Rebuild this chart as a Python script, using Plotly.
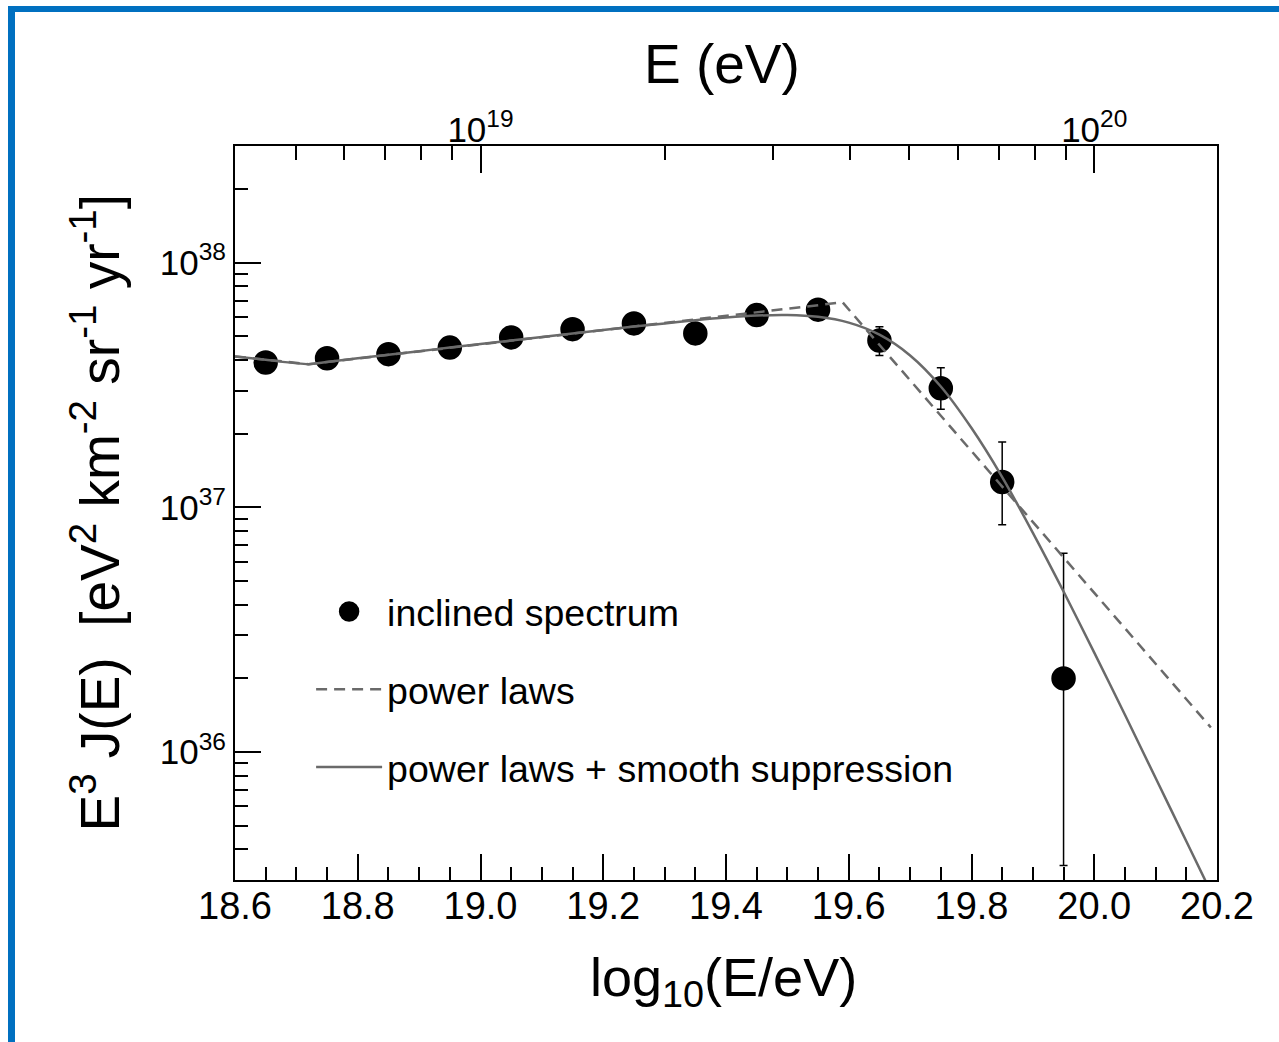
import plotly.graph_objects as go

# ---------------- data ----------------
log_e = [18.65, 18.75, 18.85, 18.95, 19.05, 19.15, 19.25, 19.35,
         19.45, 19.55, 19.65, 19.75, 19.85, 19.95]
e3j = [3.91e37, 4.07e37, 4.23e37, 4.50e37, 4.95e37, 5.35e37, 5.65e37, 5.14e37,
       6.11e37, 6.43e37, 4.81e37, 3.07e37, 1.27e37, 2.0e36]
err_plus = [0, 0, 0, 0, 0, 0, 0, 0, 0, 0, 0.66e37, 0.65e37, 0.58e37, 4.49e36]
err_minus = [0, 0, 0, 0, 0, 0, 0, 0, 0, 0, 0.63e37, 0.55e37, 0.421e37, 1.656e36]

# "power laws + smooth suppression" curve
smooth_x = [18.60, 18.65, 18.72, 18.75, 18.80, 18.85, 18.90, 18.95, 19.00,
            19.05, 19.10, 19.15, 19.20, 19.25, 19.30, 19.35, 19.40, 19.45,
            19.50, 19.55, 19.60, 19.65, 19.70, 19.75, 19.80, 19.85, 19.90,
            19.95, 20.00, 20.05, 20.10, 20.15, 20.20]
smooth_y = [4.14e37, 4.01e37, 3.85e37, 3.93e37, 4.07e37, 4.21e37, 4.35e37,
            4.50e37, 4.65e37, 4.81e37, 4.97e37, 5.14e37, 5.31e37, 5.49e37,
            5.65e37, 5.82e37, 5.97e37, 6.08e37, 6.11e37, 6.01e37, 5.69e37,
            5.08e37, 4.18e37, 3.12e37, 2.11e37, 1.33e37, 7.87e36, 4.53e36,
            2.55e36, 1.42e36, 7.83e35, 4.32e35, 2.38e35]

# "power laws" (broken power law) - break points
pl_x = [18.60, 18.72, 19.59, 20.19]
pl_y = [4.14e37, 3.85e37, 6.89e37, 1.26e36]

# tick labels
y_major = [1e36, 1e37, 1e38]
y_major_text = ["10<sup>36</sup>", "10<sup>37</sup>", "10<sup>38</sup>"]
top_major = [1e19, 1e20]
top_major_text = ["10<sup>19</sup>", "10<sup>20</sup>"]

# ---------------- styling ----------------
FONT = "Liberation Sans, Arial, Helvetica, sans-serif"
LINE_GREY = "#6a6a6a"
X_RANGE = [18.6, 20.2]
Y_RANGE = [35.47712, 38.47712]   # log10(3e35) .. log10(3e38)

y_minor = [k * 10.0 ** n for n in range(35, 39) for k in range(2, 10)]
y_minor = [v for v in y_minor if 3.05e35 < v < 2.95e38]
top_minor = [k * 1e18 for k in range(5, 10)] + [k * 1e19 for k in range(2, 10)]

fig = go.Figure()

fig.add_trace(go.Scatter(
    x=log_e, y=e3j, mode="markers", name="inclined spectrum",
    legendgroup="a",
    marker=dict(color="black", size=20, line=dict(color="black", width=4.5)),
    error_y=dict(type="data", symmetric=False, array=err_plus,
                 arrayminus=err_minus, color="black", thickness=1.5, width=4),
))
fig.add_trace(go.Scatter(
    x=pl_x, y=pl_y, mode="lines", name="power laws", legendgroup="b",
    line=dict(color=LINE_GREY, width=2.5, dash="11px,7px"),
))
fig.add_trace(go.Scatter(
    x=smooth_x, y=smooth_y, mode="lines",
    name="power laws + smooth suppression", legendgroup="c",
    line=dict(color=LINE_GREY, width=2.5, shape="spline", smoothing=0.8),
))
# invisible trace carrying the top (energy) axis
fig.add_trace(go.Scatter(
    x=[10 ** v for v in log_e], y=e3j, xaxis="x2", mode="none",
    showlegend=False, hoverinfo="skip",
))

axis_common = dict(showline=True, linecolor="black", linewidth=2,
                   ticks="inside", tickcolor="black", tickwidth=1.6,
                   showgrid=False, zeroline=False)

fig.update_layout(
    width=1279, height=1042,
    margin=dict(l=235, r=62, t=146, b=162),
    paper_bgcolor="white", plot_bgcolor="white",
    font=dict(family=FONT, color="black"),
    xaxis=dict(**axis_common, range=X_RANGE, tickmode="linear", tick0=18.6,
               dtick=0.2, tickformat=".1f", ticklen=26,
               ticklabelstandoff=-9,
               tickfont=dict(family=FONT, size=38, color="black"),
               minor=dict(dtick=0.05, tick0=18.6, ticklen=13, ticks="inside",
                          tickcolor="black", tickwidth=1.6)),
    xaxis2=dict(**axis_common, type="log", range=X_RANGE, overlaying="x",
                side="top", tickmode="array", tickvals=top_major,
                ticktext=top_major_text, ticklen=27, ticklabelstandoff=-12,
                tickfont=dict(family=FONT, size=35, color="black"),
                minor=dict(tickmode="array", tickvals=top_minor, ticklen=14,
                           ticks="inside", tickcolor="black", tickwidth=1.6)),
    yaxis=dict(**axis_common, type="log", range=Y_RANGE, mirror=True,
               tickmode="array", tickvals=y_major, ticktext=y_major_text,
               ticklen=26,
               tickfont=dict(family=FONT, size=35, color="black"),
               minor=dict(tickmode="array", tickvals=y_minor, ticklen=13,
                          ticks="inside", tickcolor="black", tickwidth=1.6)),
    showlegend=True,
    legend=dict(x=0.0775, y=0.408, xanchor="left", yanchor="top",
                bgcolor="rgba(0,0,0,0)", borderwidth=0,
                font=dict(family=FONT, size=37.5, color="black"),
                traceorder="grouped", tracegroupgap=26, itemwidth=66),
)

# axis titles
fig.add_annotation(text="E (eV)", xref="paper", yref="paper", x=0.4963, y=1.112,
                   xanchor="center", yanchor="middle", showarrow=False,
                   font=dict(family=FONT, size=55, color="black"))
fig.add_annotation(text="log<sub>10</sub>(E/eV)", xref="paper", yref="paper",
                   x=0.4978, y=-0.089, xanchor="center", yanchor="top",
                   showarrow=False, font=dict(family=FONT, size=54, color="black"))
fig.add_annotation(
    text="E<sup>3</sup> J(E)\u00a0\u00a0[eV<sup>2</sup> km<sup>-2</sup> sr<sup>-1</sup> yr<sup>-1</sup>]",
    xref="paper", yref="paper", x=-0.142, y=0.5, xanchor="center",
    yanchor="middle", textangle=-90, showarrow=False,
    font=dict(family=FONT, size=55, color="black"))

# blue frame of the original figure (left and top edges)
BLUE = "#0070C0"
PW, PH = 1279 - 235 - 62, 1042 - 146 - 162
def px(x):
    return (x - 235) / PW
def py(y):
    return (1042 - 162 - y) / PH
fig.add_shape(type="rect", xref="paper", yref="paper", x0=px(8), x1=px(15),
              y0=py(1060), y1=py(6), fillcolor=BLUE, line_width=0, layer="above")
fig.add_shape(type="rect", xref="paper", yref="paper", x0=px(8), x1=px(1290),
              y0=py(12), y1=py(6), fillcolor=BLUE, line_width=0, layer="above")

fig.write_html("out.html")
